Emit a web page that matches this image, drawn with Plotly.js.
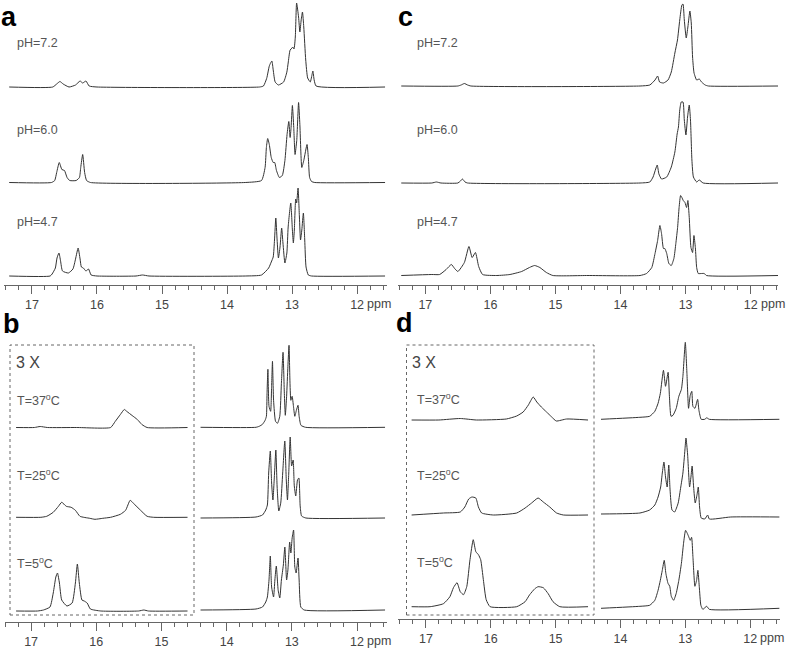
<!DOCTYPE html>
<html>
<head>
<meta charset="utf-8">
<script src="https://cdn.plot.ly/plotly-3.0.1.min.js"></script>
<style>
  html, body { margin: 0; padding: 0; background: #fff; }
  #nmr { width: 787px; height: 653px; }
</style>
</head>
<body>
<div id="nmr"></div>
<script>
// spectra: [ppm, intensity above the trace baseline]

// panel a (pH series)
const a72 = [[17.35,0],[16.68,0],[16.62,3],[16.57,5.5],[16.52,3],[16.43,0],[16.33,2],[16.26,6],[16.22,4],[16.17,6],[16.12,1],[16.0,0],
  [13.5,0],[13.44,1],[13.39,8.7],[13.35,21],[13.33,24],[13.31,26],[13.29,17],[13.26,5],[13.21,2],[13.13,5],[13.08,15],[13.06,24],
  [13.03,37],[13.00,39],[12.99,40],[12.97,38],[12.95,50],[12.93,84],[12.90,70],[12.88,55],[12.86,67],[12.84,75],[12.82,60],
  [12.79,27],[12.76,9],[12.72,5],[12.70,10],[12.68,16],[12.66,7],[12.63,1],[11.57,0]];
const a60 = [[17.35,0],[16.7,0],[16.65,2],[16.62,10],[16.58,20],[16.54,13],[16.5,12],[16.46,5],[16.42,2],[16.32,2],[16.27,5],
  [16.25,15],[16.22,28],[16.19,10],[16.16,2],[16.1,0],[13.72,0],[13.47,2],[13.415,15],[13.395,35],[13.375,44],[13.35,38],
  [13.32,25],[13.29,20],[13.267,20],[13.24,12],[13.195,5],[13.15,7],[13.11,22],[13.077,48],[13.05,61],[13.03,45],[13.015,55],
  [12.995,77],[12.974,55],[12.954,28],[12.928,42],[12.90,80],[12.88,58],[12.85,15],[12.82,22],[12.77,38],[12.75,25],
  [12.73,5],[12.70,1],[12.65,0],[11.57,0]];
const a47 = [[17.35,0],[16.72,0],[16.69,2],[16.64,8],[16.615,18],[16.585,23],[16.56,15],[16.53,5],[16.44,3],[16.37,7],[16.33,17],
  [16.29,28],[16.26,17],[16.24,9],[16.21,8],[16.17,5],[16.13,7],[16.09,1],[16.0,0],[15.4,0],[15.3,1],[15.2,0],[13.72,0],
  [13.47,1],[13.36,8],[13.32,14],[13.29,19],[13.27,36],[13.25,58],[13.23,36],[13.21,18],[13.185,29],[13.16,48],[13.14,33],
  [13.11,13],[13.08,23],[13.06,49],[13.02,73],[12.995,46],[12.98,33],[12.965,46],[12.944,77],[12.93,73],[12.908,88],
  [12.887,59],[12.87,36],[12.85,46],[12.826,63],[12.805,36],[12.785,9],[12.75,1],[12.7,0],[11.57,0]];

// panel c (pH series)
const c72 = [[17.37,0],[16.5,0],[16.45,1],[16.40,2.5],[16.35,1],[16.3,0],[13.70,0],[13.55,1],[13.47,6],[13.43,10],[13.40,4],
  [13.34,3],[13.27,6],[13.22,14],[13.165,33],[13.125,46],[13.09,66],[13.057,81],[13.04,82],[13.02,66],[12.99,48],[12.965,59],
  [12.934,75],[12.913,63],[12.893,29],[12.87,13],[12.83,6],[12.79,7],[12.755,4],[12.70,1],[12.65,0],[11.58,0]];
const c60 = [[17.37,0],[16.9,0],[16.83,1],[16.76,0],[16.5,0],[16.46,2],[16.43,4],[16.39,1],[16.35,0],[13.70,0],[13.55,1],
  [13.50,6],[13.46,14],[13.436,18],[13.41,9],[13.37,4],[13.29,6],[13.22,16],[13.165,31],[13.13,49],[13.11,56],[13.09,73],
  [13.067,81],[13.04,81],[13.02,63],[12.995,48],[12.97,66],[12.944,78],[12.925,63],[12.903,23],[12.88,6],[12.83,1],
  [12.79,3],[12.73,0],[11.58,0]];
const c47 = [[17.37,0],[16.9,1],[16.78,1],[16.68,6],[16.60,11],[16.55,7],[16.50,4],[16.40,13],[16.33,29],[16.28,18],[16.23,23],
  [16.18,9],[16.12,1],[15.9,0],[15.70,1],[15.52,4],[15.40,8],[15.32,10],[15.24,8],[15.14,3],[15.04,0],[14.5,0],[13.70,0],
  [13.60,2],[13.52,8],[13.47,22],[13.43,35],[13.395,50],[13.37,42],[13.34,27],[13.32,27],[13.29,22],[13.257,12],[13.22,10],
  [13.18,17],[13.15,32],[13.123,48],[13.10,68],[13.077,80],[13.057,78],[13.036,75],[13.01,73],[12.985,68],[12.965,75],
  [12.944,58],[12.918,28],[12.893,23],[12.872,40],[12.85,28],[12.83,8],[12.806,2],[12.755,2],[12.713,2],[12.68,0],[11.58,0]];

// panel b (temperature series; left part shown 3x)
const b37L = [[17.23,0],[16.95,0],[16.86,1],[16.75,0],[16.3,0],[15.78,0],[15.71,6],[15.63,13],[15.57,18],[15.53,16],[15.45,12],
  [15.37,8],[15.30,3],[15.22,0],[14.60,0]];
const b25L = [[17.23,0],[16.85,0],[16.76,1],[16.66,5],[16.58,11],[16.53,15],[16.46,11],[16.385,10],[16.32,7],[16.25,1],[16.1,-1],
  [16.02,-2],[15.9,-1],[15.78,0],[15.63,3],[15.55,7],[15.48,17],[15.43,14],[15.32,7],[15.22,1],[15.12,0],[14.60,0]];
const b5L = [[17.23,0],[16.9,0],[16.81,1],[16.71,4],[16.66,18],[16.62,34],[16.595,38],[16.565,28],[16.53,11],[16.45,5],[16.37,8],
  [16.32,28],[16.29,47],[16.26,28],[16.22,11],[16.185,10],[16.14,8],[16.09,2],[15.93,0],[15.35,0],[15.27,1],[15.2,0],[14.60,0]];
const b37R = [[14.40,0],[13.55,0],[13.50,1],[13.45,3],[13.41,7],[13.39,11],[13.38,34],[13.367,58],[13.35,21],[13.325,16],
  [13.31,41],[13.297,66],[13.28,27],[13.25,6],[13.22,4],[13.185,11],[13.16,44],[13.135,75],[13.115,34],[13.10,12],[13.08,31],
  [13.06,61],[13.043,82],[13.028,44],[13.015,27],[12.995,31],[12.975,21],[12.954,11],[12.93,17],[12.905,22],[12.888,11],
  [12.86,2],[12.79,0],[11.57,0]];
const b25R = [[14.40,0],[13.55,1],[13.45,3],[13.40,8],[13.375,13],[13.355,45],[13.33,67],[13.31,35],[13.29,18],[13.265,45],
  [13.245,68],[13.226,32],[13.20,7],[13.17,15],[13.14,45],[13.108,77],[13.085,38],[13.067,18],[13.047,45],[13.025,81],
  [13.003,52],[12.98,58],[12.962,32],[12.94,22],[12.913,38],[12.892,40],[12.872,12],[12.85,2],[12.785,0],[11.57,0]];
const b5R = [[14.40,0],[13.55,1],[13.45,3],[13.40,8],[13.375,13],[13.35,30],[13.33,54],[13.31,23],[13.28,13],[13.26,30],
  [13.238,44],[13.21,20],[13.185,12],[13.16,30],[13.13,45],[13.107,63],[13.08,30],[13.06,40],[13.033,68],[13.015,57],
  [12.995,72],[12.973,80],[12.954,43],[12.934,37],[12.905,52],[12.888,30],[12.862,3],[12.81,0],[11.57,0]];

// panel d (temperature series; left part shown 3x)
const d37L = [[17.22,0],[16.8,0],[16.47,1.5],[16.22,0],[15.76,1],[15.60,4],[15.50,8],[15.42,15],[15.345,23],[15.29,18],
  [15.22,13],[15.14,8],[15.06,3],[14.99,-1],[14.83,1],[14.50,0]];
const d25L = [[17.22,0],[16.73,2],[16.47,3],[16.40,8],[16.34,16],[16.29,18],[16.23,17],[16.19,8],[16.14,2],[15.96,0],[15.60,2],
  [15.47,7],[15.37,12],[15.27,17],[15.19,13],[15.09,8],[14.985,2],[14.88,0],[14.50,0]];
const d5L = [[17.22,0],[16.935,0],[16.73,3],[16.63,10],[16.575,19],[16.52,24],[16.47,15],[16.42,12],[16.37,20],[16.32,47],
  [16.27,67],[16.23,55],[16.19,52],[16.155,47],[16.114,27],[16.07,7],[16.01,0],[15.60,0],[15.47,5],[15.40,12],[15.32,18],
  [15.27,20],[15.19,19],[15.114,13],[15.04,5],[14.935,0],[14.50,0]];
const d37R = [[14.30,0],[13.70,2],[13.55,3],[13.47,8],[13.42,16],[13.385,26],[13.337,49],[13.305,33],[13.265,47],[13.245,23],
  [13.22,3],[13.19,4],[13.14,11],[13.10,23],[13.06,30],[13.037,43],[13.00,77],[12.975,46],[12.95,11],[12.924,24],[12.90,28],
  [12.883,13],[12.852,11],[12.81,20],[12.79,9],[12.755,0],[12.70,0],[12.67,1.5],[12.63,0],[11.55,0]];
const d25R = [[14.30,0],[13.70,1],[13.55,4],[13.47,9],[13.42,17],[13.38,27],[13.355,41],[13.33,52],[13.305,37],[13.28,27],
  [13.255,49],[13.235,24],[13.205,4],[13.165,2],[13.11,11],[13.07,27],[13.037,41],[13.006,64],[12.99,76],[12.965,60],
  [12.934,27],[12.913,37],[12.895,48],[12.872,27],[12.847,11],[12.82,19],[12.80,27],[12.78,7],[12.755,-4],[12.70,-5],
  [12.655,-1],[12.63,-5],[12.3,-3],[11.55,-3]];
const d5R = [[14.30,0],[13.70,2],[13.55,3],[13.47,8],[13.42,18],[13.385,28],[13.355,38],[13.325,48],[13.30,35],[13.267,25],
  [13.24,22],[13.216,12],[13.18,8],[13.14,15],[13.10,28],[13.06,45],[13.027,65],[12.996,78],[12.97,75],[12.95,72],[12.924,68],
  [12.903,71],[12.883,52],[12.852,22],[12.826,28],[12.806,38],[12.785,22],[12.76,3],[12.73,-1],[12.67,2],[12.63,-1],[11.55,0]];

const pHLabels = ["pH=7.2", "pH=6.0", "pH=4.7"];
const tempLabels = ["T=37<sup>o</sup>C", "T=25<sup>o</sup>C", "T=5<sup>o</sup>C"];
const majorTicks = [17, 16, 15, 14, 13, 12];

// page geometry in pixels
const W = 787, H = 653;
const fx = px => px / W;
const fy = py => 1 - py / H;
const FONT = "Liberation Sans, Arial, sans-serif";

const panels = {
  a: {ax: "x",  x0: 4,   x1: 387, axisY: 285,   topY: 0,   range: [17.43, 11.54]},
  c: {ax: "x2", x0: 398, x1: 778, axisY: 285,   topY: 0,   range: [17.42, 11.58]},
  b: {ax: "x3", x0: 5,   x1: 387, axisY: 621.5, topY: 320, range: [17.40, 11.54]},
  d: {ax: "x4", x0: 398, x1: 780, axisY: 619,   topY: 320, range: [17.43, 11.54]}
};

// which spectrum goes where, with the pixel row of its baseline
const series = [
  {pts: a72, p: "a", base: 87},   {pts: a60, p: "a", base: 182.5}, {pts: a47, p: "a", base: 276},
  {pts: c72, p: "c", base: 86},   {pts: c60, p: "c", base: 183},   {pts: c47, p: "c", base: 275.5},
  {pts: b37L, p: "b", base: 427.5}, {pts: b25L, p: "b", base: 517.3}, {pts: b5L, p: "b", base: 611},
  {pts: b37R, p: "b", base: 427.3}, {pts: b25R, p: "b", base: 518},   {pts: b5R, p: "b", base: 610},
  {pts: d37L, p: "d", base: 420},   {pts: d25L, p: "d", base: 515},   {pts: d5L, p: "d", base: 606.7},
  {pts: d37R, p: "d", base: 419.3}, {pts: d25R, p: "d", base: 514},   {pts: d5R, p: "d", base: 608.3}
];

const traces = series.map(s => {
  const P = panels[s.p];
  const off = P.axisY - s.base;
  return {
    x: s.pts.map(d => d[0]),
    y: s.pts.map(d => off + d[1]),
    xaxis: P.ax,
    yaxis: P.ax.replace("x", "y"),
    type: "scatter",
    mode: "lines",
    line: {color: "#333", width: 1, shape: "spline", smoothing: 0.5},
    hoverinfo: "skip"
  };
});

const layout = {
  width: W, height: H,
  margin: {l: 0, r: 0, t: 0, b: 0},
  paper_bgcolor: "#fff", plot_bgcolor: "rgba(0,0,0,0)",
  showlegend: false,
  font: {family: FONT, color: "#444", size: 12},
  annotations: [],
  shapes: []
};

Object.keys(panels).forEach(k => {
  const P = panels[k];
  const xName = P.ax === "x" ? "xaxis" : "xaxis" + P.ax.slice(1);
  const yName = xName.replace("x", "y");
  layout[xName] = {
    domain: [fx(P.x0), fx(P.x1)],
    range: P.range,
    anchor: P.ax.replace("x", "y"),
    showgrid: false, zeroline: false,
    showline: true, linecolor: "#666", linewidth: 1,
    tickmode: "array", tickvals: majorTicks, ticktext: majorTicks.map(String),
    ticks: "outside", ticklen: 8, tickcolor: "#666", tickwidth: 1,
    minor: {dtick: 0.2, tick0: 0, ticks: "outside", ticklen: 4, tickcolor: "#666", tickwidth: 1, showgrid: false},
    tickfont: {family: FONT, size: 12.5, color: "#444"},
    fixedrange: true
  };
  layout[yName] = {
    domain: [fy(P.axisY), fy(P.topY)],
    range: [0, P.axisY - P.topY],
    anchor: P.ax,
    visible: false,
    fixedrange: true
  };
  layout.annotations.push({
    text: "ppm", xref: P.ax, x: 12, yref: "paper", y: fy(P.axisY + 19),
    xanchor: "left", yanchor: "middle", xshift: 8, showarrow: false,
    font: {family: FONT, size: 12.5, color: "#444"}
  });
});

function label(text, px, py, size, color, bold) {
  layout.annotations.push({
    text: bold ? "<b>" + text + "</b>" : text,
    xref: "paper", yref: "paper", x: fx(px), y: fy(py),
    xanchor: "left", yanchor: "middle", showarrow: false,
    font: {family: FONT, size: size, color: color || "#555"}
  });
}

// panel letters
[["a", -1, 17.5], ["c", 396, 17.5], ["b", 1, 324], ["d", 394, 323]].forEach(l => label(l[0], l[1], l[2], 27, "#000", true));

// pH labels
[43, 130, 222].forEach((py, i) => { label(pHLabels[i], 15, py, 12.5); label(pHLabels[i], 415, py, 12.5); });

// 3x insets
label("3 X", 14, 362, 16, "#444");
label("3 X", 410, 362, 16, "#444");
[[400, 399], [475, 475], [563, 562]].forEach((py, i) => {
  label(tempLabels[i], 15, py[0], 12.5);
  label(tempLabels[i], 415, py[1], 12.5);
});

[[10, 345, 194, 615], [406.5, 345, 594, 615]].forEach(r => layout.shapes.push({
  type: "rect", xref: "paper", yref: "paper",
  x0: fx(r[0]), x1: fx(r[2]), y0: fy(r[3]), y1: fy(r[1]),
  line: {color: "#666", width: 1, dash: "dot"}
}));

Plotly.newPlot("nmr", traces, layout, {staticPlot: true, displayModeBar: false});
</script>
</body>
</html>
